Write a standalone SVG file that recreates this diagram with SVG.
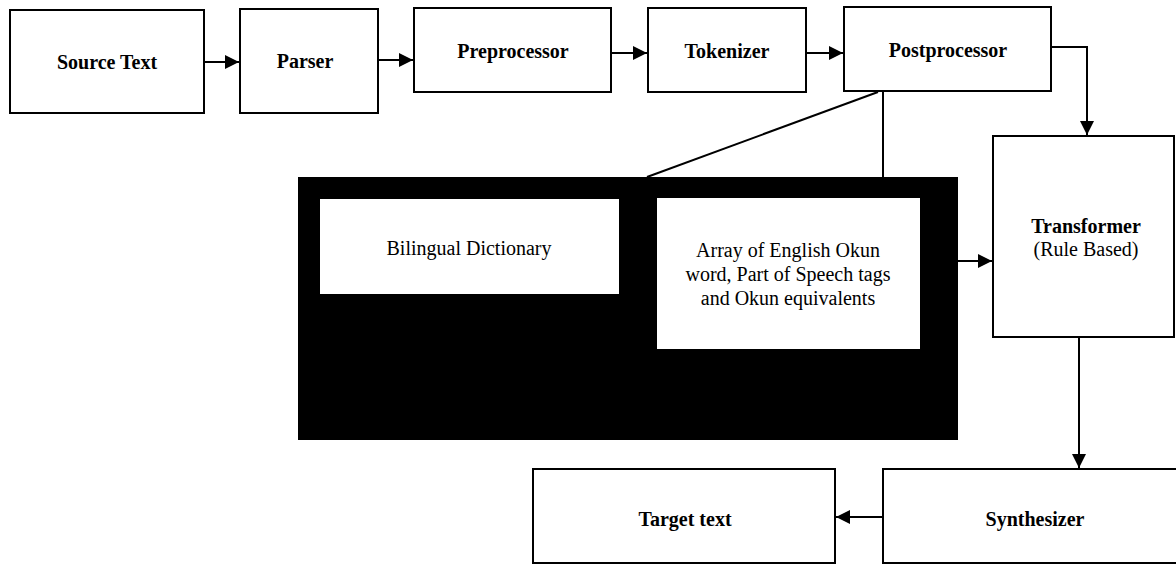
<svg xmlns="http://www.w3.org/2000/svg" width="1176" height="565" viewBox="0 0 1176 565">
  <style>
    .box { fill: #fff; stroke: #000; stroke-width: 2; }
    .panel { fill: #000; }
    .inner { fill: #fff; }
    .lbl { font-family: "Liberation Serif", "Times New Roman", serif; font-size: 20px; fill: #000; text-anchor: middle; }
    .bold { font-weight: bold; }
    .wire { fill: none; stroke: #000; stroke-width: 2; }
  </style>
  <defs>
    <marker id="arrow" viewBox="0 0 10 10" refX="10" refY="5" markerWidth="7" markerHeight="7" markerUnits="strokeWidth" orient="auto">
      <path d="M0,0 L10,5 L0,10 Z" fill="#000"/>
    </marker>
  </defs>
  <rect width="1176" height="565" fill="#fff"/>

  <g id="source-text">
    <rect class="box" x="10" y="10" width="194" height="103"/>
    <text class="lbl bold" x="107" y="69">Source Text</text>
  </g>
  <g id="parser">
    <rect class="box" x="240" y="9" width="138" height="104"/>
    <text class="lbl bold" x="305" y="68">Parser</text>
  </g>
  <g id="preprocessor">
    <rect class="box" x="414" y="8" width="197" height="84"/>
    <text class="lbl bold" x="513" y="58">Preprocessor</text>
  </g>
  <g id="tokenizer">
    <rect class="box" x="648" y="8" width="158" height="84"/>
    <text class="lbl bold" x="727" y="58">Tokenizer</text>
  </g>
  <g id="postprocessor">
    <rect class="box" x="844" y="7" width="207" height="84"/>
    <text class="lbl bold" x="948" y="57">Postprocessor</text>
  </g>

  <g id="lexicon">
    <rect class="panel" x="298" y="177" width="660" height="263"/>
    <g id="bilingual-dictionary">
      <rect class="inner" x="320" y="199" width="299" height="95"/>
      <text class="lbl" x="469" y="255">Bilingual Dictionary</text>
    </g>
    <g id="word-array">
      <rect class="inner" x="657" y="198" width="263" height="151"/>
      <text class="lbl" x="788" y="257">Array of English Okun</text>
      <text class="lbl" x="788" y="281">word, Part of Speech tags</text>
      <text class="lbl" x="788" y="305">and Okun equivalents</text>
    </g>
  </g>

  <g id="transformer">
    <rect class="box" x="993" y="136" width="181" height="201"/>
    <text class="lbl bold" x="1086" y="233">Transformer</text>
    <text class="lbl" x="1086" y="256">(Rule Based)</text>
  </g>
  <g id="synthesizer">
    <rect class="box" x="883" y="469" width="300" height="94"/>
    <text class="lbl bold" x="1035" y="526">Synthesizer</text>
  </g>
  <g id="target-text">
    <rect class="box" x="533" y="469" width="302" height="94"/>
    <text class="lbl bold" x="685" y="526">Target text</text>
  </g>

  <g id="connectors">
    <line class="wire" x1="204" y1="62" x2="239" y2="62" marker-end="url(#arrow)"/>
    <line class="wire" x1="378" y1="60" x2="413" y2="60" marker-end="url(#arrow)"/>
    <line class="wire" x1="611" y1="53" x2="647" y2="53" marker-end="url(#arrow)"/>
    <line class="wire" x1="806" y1="53" x2="843" y2="53" marker-end="url(#arrow)"/>
    <polyline class="wire" points="1051,47 1087,47 1087,135" marker-end="url(#arrow)"/>
    <line class="wire" x1="883" y1="91" x2="883" y2="177"/>
    <line class="wire" x1="878" y1="92" x2="647" y2="177" stroke-width="2.5"/>
    <line class="wire" x1="958" y1="261" x2="992" y2="261" marker-end="url(#arrow)"/>
    <line class="wire" x1="1079" y1="337" x2="1079" y2="468" marker-end="url(#arrow)"/>
    <line class="wire" x1="883" y1="517" x2="836" y2="517" marker-end="url(#arrow)"/>
  </g>
</svg>
